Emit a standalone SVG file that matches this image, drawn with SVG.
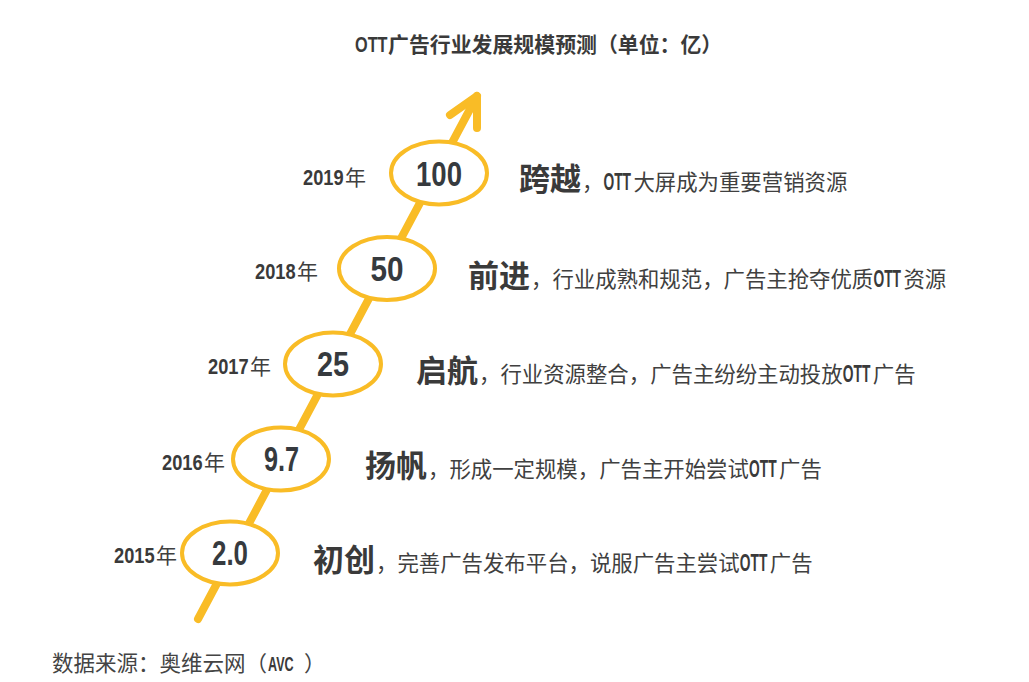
<svg xmlns="http://www.w3.org/2000/svg" width="1029" height="682" viewBox="0 0 1029 682">
<style>
.cjk{font-family:"Noto Sans CJK SC","Noto Sans CJK TC",sans-serif}
.lat{font-family:"Liberation Sans",Arial,sans-serif;font-weight:700}
.body{font-size:21.4px;fill:#404040;font-weight:400}
.head{font-size:31px;font-weight:700;fill:#3a3a3a}
.ott{font-size:23px;fill:#3a3a3a}
.year{font-size:22px;fill:#3a3a3a}
.nian{font-size:21px;fill:#404040;font-weight:400}
.num{font-size:35px;fill:#363a3e}
.ell{fill:#ffffff;stroke:#F9BC26;stroke-width:4}
.arr{fill:none;stroke:#F9BC26;stroke-width:8;stroke-linecap:round;stroke-linejoin:round}
</style>
<rect width="1029" height="682" fill="#ffffff"/>

<g id="title">
  <text class="lat" font-size="22" fill="#3a3a3a" transform="translate(355,52) scale(0.74,1)">OTT</text>
  <text class="cjk" x="388" y="52" font-size="20.9" font-weight="700" fill="#3a3a3a">广告行业发展规模预测（单位：亿）</text>
</g>

<g id="connectors">
  <line class="arr" x1="198" y1="619" x2="477" y2="96"/>
  <polyline class="arr" points="450,115 477,96 477,128"/>
</g>

<g id="node-2019">
  <ellipse class="ell" cx="439" cy="173" rx="48" ry="31.5"/>
  <text class="lat num" transform="translate(416,186) scale(0.788,1)">100</text>
  <text class="lat year" transform="translate(303,185) scale(0.83,1)">2019</text>
  <text class="cjk nian" x="345" y="185">年</text>
  <text class="cjk head" x="519" y="190">跨越</text>
  <text class="cjk body" x="582" y="190">，</text>
  <text class="lat ott" transform="translate(603.4,190) scale(0.6,1)">OTT</text>
  <text class="cjk body" x="633.4" y="190">大屏成为重要营销资源</text>
</g>

<g id="node-2018">
  <ellipse class="ell" cx="387" cy="268.5" rx="48" ry="31.5"/>
  <text class="lat num" transform="translate(370.5,281) scale(0.848,1)">50</text>
  <text class="lat year" transform="translate(255,279) scale(0.83,1)">2018</text>
  <text class="cjk nian" x="297" y="279">年</text>
  <text class="cjk head" x="468" y="287">前进</text>
  <text class="cjk body" x="531" y="287">，行业成熟和规范，广告主抢夺优质</text>
  <text class="lat ott" transform="translate(873.4,287) scale(0.6,1)">OTT</text>
  <text class="cjk body" x="903.4" y="287">资源</text>
</g>

<g id="node-2017">
  <ellipse class="ell" cx="333" cy="364" rx="48" ry="31.5"/>
  <text class="lat num" transform="translate(317,376) scale(0.822,1)">25</text>
  <text class="lat year" transform="translate(208,374) scale(0.83,1)">2017</text>
  <text class="cjk nian" x="250" y="374">年</text>
  <text class="cjk head" x="416" y="382">启航</text>
  <text class="cjk body" x="479" y="382">，行业资源整合，广告主纷纷主动投放</text>
  <text class="lat ott" transform="translate(842.8,382) scale(0.6,1)">OTT</text>
  <text class="cjk body" x="872.8" y="382">广告</text>
</g>

<g id="node-2016">
  <ellipse class="ell" cx="281" cy="459" rx="48" ry="31.5"/>
  <text class="lat num" transform="translate(264,471) scale(0.72,1)">9.7</text>
  <text class="lat year" transform="translate(162,470) scale(0.83,1)">2016</text>
  <text class="cjk nian" x="204" y="470">年</text>
  <text class="cjk head" x="365" y="477">扬帆</text>
  <text class="cjk body" x="428" y="477">，形成一定规模，广告主开始尝试</text>
  <text class="lat ott" transform="translate(749,477) scale(0.6,1)">OTT</text>
  <text class="cjk body" x="779" y="477">广告</text>
</g>

<g id="node-2015">
  <ellipse class="ell" cx="230" cy="553" rx="48" ry="31.5"/>
  <text class="lat num" transform="translate(212,565) scale(0.74,1)">2.0</text>
  <text class="lat year" transform="translate(114,563) scale(0.83,1)">2015</text>
  <text class="cjk nian" x="156" y="563">年</text>
  <text class="cjk head" x="313" y="571">初创</text>
  <text class="cjk body" x="376" y="571">，完善广告发布平台，说服广告主尝试</text>
  <text class="lat ott" transform="translate(739.8,571) scale(0.6,1)">OTT</text>
  <text class="cjk body" x="769.8" y="571">广告</text>
</g>

<g id="source">
  <text class="cjk" x="52" y="671" font-size="21.5" fill="#444444">数据来源：奥维云网（</text>
  <text class="lat" font-size="21" fill="#3a3a3a" transform="translate(268,671) scale(0.6,1)">AVC</text>
  <text class="cjk" x="304" y="671" font-size="21.5" fill="#444444">）</text>
</g>
</svg>
